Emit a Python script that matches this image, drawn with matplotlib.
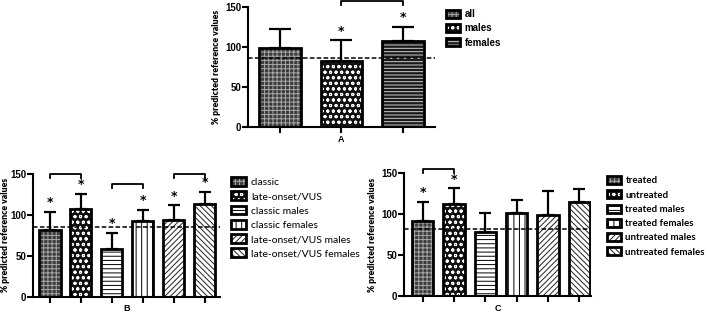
import matplotlib.pyplot as plt
from matplotlib.legend_handler import HandlerTuple

plt.rcParams['hatch.linewidth'] = 0.7

# ---------- Datos ----------
A_labels = ["all", "males", "females"]
A_mean = [99, 83, 107]
A_err = [23, 25, 18]
A_ref = 85.6
A_star = [False, True, True]
A_brackets = [(1, 2, 157)]

B_labels = ["classic", "late-onset/VUS", "classic males", "classic females",
            "late-onset/VUS males", "late-onset/VUS females"]
B_mean = [81.5, 107, 58, 92.5, 94, 113]
B_err = [22.5, 19, 20, 13.5, 18, 15.5]
B_ref = 84.8
B_star = [True, True, True, True, True, True]
B_brackets = [(0, 1, 150), (2, 3, 138), (4, 5, 150)]

C_labels = ["treated", "untreated", "treated males", "treated females",
            "untreated males", "untreated females"]
C_mean = [92, 112, 78.5, 101, 99, 114.5]
C_err = [23, 19.5, 23.5, 16, 29, 16.5]
C_ref = 82
C_star = [True, True, False, False, False, False]
C_brackets = [(0, 1, 155)]

# estilos: (relleno, color del rayado, rayado)
GRID = ("#3c3c3c", "#a8a8a8", "++++")
CHECK = ("#111111", "white", "ooo")
HDARK = ("#1a1a1a", "#cccccc", "-----")
HLINE = ("white", "black", "----")
VLINE = ("white", "black", "|||")
DIAG1 = ("white", "#222222", "//////")
DIAG2 = ("white", "#222222", "\\\\\\\\\\\\")

A_styles = [GRID, CHECK, HDARK]
BC_styles = [GRID, CHECK, HLINE, VLINE, DIAG1, DIAG2]

W, H = 709, 313
fig = plt.figure(figsize=(W / 100, H / 100), dpi=100)


def px_axes(left, right, top, bottom):
    return fig.add_axes([left / W, 1 - bottom / H, (right - left) / W, (bottom - top) / H])


def panel(ax, labels, means, errs, ref, stars, brackets, styles, letter, xlim,
          capsize, legend_pos, leg_prop, leg_spacing, ylab_pad):
    x = list(range(len(means)))
    handles = []
    for i in x:
        fc, hc, hatch = styles[i]
        f = ax.bar(i, means[i], width=0.68, color=fc, edgecolor=hc, hatch=hatch, lw=0, zorder=2)
        e = ax.bar(i, means[i], width=0.68, color="none", edgecolor="black", lw=2, zorder=3)
        handles.append((f, e))
    ax.errorbar(x, means, yerr=[[0] * len(x), errs], fmt="none", ecolor="black",
                elinewidth=1.6, capsize=capsize, capthick=1.6, zorder=1)
    ax.axhline(ref, color="black", ls=(0, (3, 1.5)), lw=1.1, zorder=4)

    for i in x:
        if stars[i]:
            ax.text(i, means[i] + errs[i] + 11, "*", ha="center", va="center",
                    fontsize=9, fontweight="bold", clip_on=False)
    for a, b, y in brackets:
        ax.plot([a, a, b, b], [y - 5, y, y, y - 5], color="black", lw=1.3,
                clip_on=False, zorder=5)

    ax.set_ylim(0, 150)
    ax.set_xlim(*xlim)
    ax.set_yticks([0, 50, 100, 150])
    ax.set_xticks(x)
    ax.set_xticklabels([])
    ax.spines[["top", "right"]].set_visible(False)
    ax.spines[["left", "bottom"]].set_linewidth(1.5)
    ax.tick_params(width=1.5, length=4, labelsize=7, pad=1)
    for t in ax.get_yticklabels():
        t.set_fontweight("bold")
        t.set_family("Liberation Sans")
    ax.set_xlabel(letter, fontsize=6.5, fontweight="bold", labelpad=0.5,
                  family="Liberation Sans")
    ax.set_ylabel("% predicted reference values", fontsize=6.2, fontweight="heavy",
                  family="Lato", labelpad=ylab_pad)

    ax.legend(handles, labels, handler_map={tuple: HandlerTuple(ndivide=1, pad=0)},
              loc="upper left", bbox_to_anchor=(legend_pos[0] / W, 1 - legend_pos[1] / H),
              bbox_transform=fig.transFigure, frameon=False,
              handlelength=1.4, handleheight=0.9, handletextpad=0.5,
              labelspacing=leg_spacing, borderaxespad=0, borderpad=0,
              prop=leg_prop)


axA = px_axes(248, 435, 6.7, 127.3)
panel(axA, A_labels, A_mean, A_err, A_ref, A_star, A_brackets, A_styles, "A",
      (-0.52, 2.52), 8, (446, 9),
      {"family": "Liberation Sans", "weight": "bold", "size": 7}, 0.45, 3)

axB = px_axes(33, 220, 174, 296.7)
panel(axB, B_labels, B_mean, B_err, B_ref, B_star, B_brackets, BC_styles, "B",
      (-0.55, 5.5), 4.3, (231, 177),
      {"family": "Lato", "size": 7.5}, 0.42, 2)
# etiqueta Y de B pegada al borde izquierdo
axB.yaxis.set_label_coords((10.5 - 33) / 187, 0.5)

axC = px_axes(404, 591, 173.3, 296)
panel(axC, C_labels, C_mean, C_err, C_ref, C_star, C_brackets, BC_styles, "C",
      (-0.6, 5.37), 4.3, (607, 176),
      {"family": "Lato", "weight": "bold", "size": 7}, 0.5, 3)

fig.savefig("out.png", dpi=100)
